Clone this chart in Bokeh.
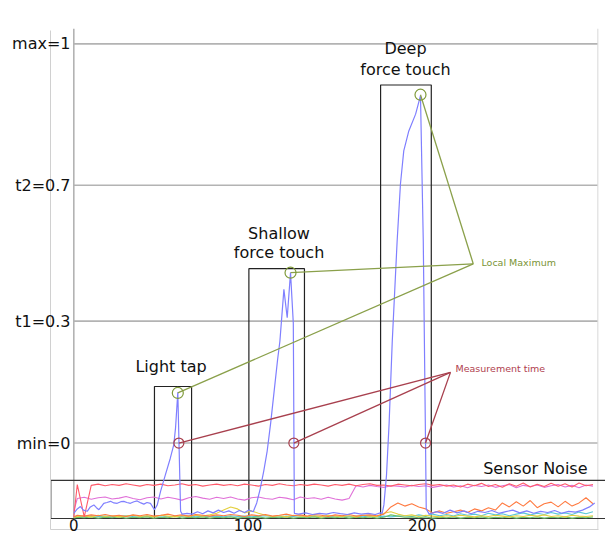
from bokeh.plotting import figure
from bokeh.models import FixedTicker, Range1d
from bokeh.core.properties import value
from bokeh.embed import file_html
from bokeh.resources import INLINE

# ---------------- data ----------------
tick_pos = [0.0, 0.3055, 0.646, 1.0]
tick_labels = ["min=0", "t1=0.3", "t2=0.7", "max=1"]
x_ticks = [0, 100, 200]

# force signal (blue)
sig_x = [0, 2, 3.8, 5.5, 7.7, 9.5, 11.5, 13, 14.4, 16, 17.2, 19, 21.1, 23, 24.9, 27, 28.7, 30.5,
         32.5, 34.5, 36.4, 38.5, 40.2, 42, 44.0, 46.3,
         47.9, 49.8, 52.6, 55.4, 57.4, 58.4, 59.7, 61.3,
         62.2, 65, 68, 71, 74, 77, 80, 83, 86, 89, 92, 95, 98, 100.5, 103,
         105, 107, 109, 111, 113, 115, 117, 118.3, 120.6, 122.5, 124.4, 126.0, 126.6,
         129, 133, 137, 141, 145, 149, 153, 157, 161, 165, 169, 173, 176,
         177, 178, 179.5, 181, 182.8, 185.6, 187.5, 189.4, 192.3, 196.2, 199.0, 200.6, 201.9, 202.3,
         204, 208, 212, 216, 220, 224, 228, 232, 236, 240, 244, 248, 252, 256, 260, 264, 268,
         272, 276, 280, 284, 288, 292, 296, 299]
sig_y = [-0.176, -0.165, -0.159, -0.168, -0.171, -0.160, -0.155, -0.162, -0.167, -0.158, -0.151,
         -0.149, -0.146, -0.150, -0.151, -0.147, -0.146, -0.149, -0.151, -0.147, -0.145, -0.150,
         -0.153, -0.149, -0.151, -0.167,
         -0.155, -0.121, -0.079, -0.038, -0.004, 0.038, 0.127, -0.171,
         -0.178, -0.176, -0.178, -0.172, -0.177, -0.170, -0.175, -0.168, -0.174, -0.170, -0.176,
         -0.169, -0.174, -0.168, -0.172,
         -0.150, -0.115, -0.071, -0.020, 0.050, 0.130, 0.210, 0.255, 0.385, 0.314, 0.427, 0.300, -0.176,
         -0.178, -0.175, -0.179, -0.176, -0.178, -0.174, -0.177, -0.179, -0.175, -0.178, -0.176,
         -0.179, -0.175,
         -0.176, -0.155, -0.080, 0.050, 0.255, 0.506, 0.649, 0.732, 0.782, 0.824, 0.870, 0.506,
         0.0, -0.165,
         -0.178, -0.172, -0.176, -0.168, -0.175, -0.170, -0.177, -0.171, -0.174, -0.169, -0.176,
         -0.172, -0.168, -0.175, -0.170, -0.176, -0.171, -0.174, -0.169, -0.176, -0.171, -0.173,
         -0.168, -0.160, -0.150]

# sensor noise channels
noise_t = [0] + list(range(2, 299, 4))
noise_red = [-0.185, -0.104, -0.185, -0.106, -0.103, -0.107, -0.104, -0.106, -0.102, -0.105,
             -0.108, -0.104, -0.106, -0.103, -0.107, -0.105, -0.102, -0.106, -0.104, -0.108,
             -0.105, -0.103, -0.106, -0.104, -0.107, -0.103, -0.105, -0.108, -0.104, -0.106,
             -0.102, -0.105, -0.107, -0.104, -0.106, -0.103, -0.105, -0.108, -0.104, -0.106,
             -0.103, -0.107, -0.104, -0.102, -0.106, -0.105, -0.108, -0.103, -0.105, -0.107,
             -0.104, -0.102, -0.106, -0.104, -0.108, -0.105, -0.110, -0.103, -0.107, -0.101,
             -0.109, -0.104, -0.111, -0.102, -0.108, -0.100, -0.110, -0.103, -0.109, -0.101,
             -0.108, -0.102, -0.110, -0.100, -0.107, -0.104]
noise_magenta = [-0.170, -0.139, -0.136, -0.141, -0.137, -0.135, -0.140, -0.138, -0.134, -0.139,
                 -0.142, -0.137, -0.135, -0.140, -0.136, -0.139, -0.143, -0.137, -0.134, -0.138,
                 -0.141, -0.136, -0.139, -0.135, -0.140, -0.143, -0.137, -0.135, -0.139, -0.141,
                 -0.136, -0.138, -0.142, -0.135, -0.139, -0.137, -0.141, -0.136, -0.140, -0.143,
                 -0.139, -0.107, -0.110, -0.106, -0.109, -0.111, -0.107, -0.108, -0.110, -0.106,
                 -0.109, -0.107, -0.111, -0.108, -0.105, -0.110, -0.107, -0.112, -0.106, -0.109,
                 -0.105, -0.111, -0.107, -0.104, -0.112, -0.106, -0.109, -0.105, -0.111, -0.107,
                 -0.104, -0.110, -0.106, -0.112, -0.105, -0.108]
noise_orange = [-0.185, -0.181, -0.183, -0.180, -0.182, -0.179, -0.183, -0.181, -0.184, -0.180,
                -0.182, -0.179, -0.183, -0.181, -0.178, -0.182, -0.180, -0.183, -0.179, -0.181,
                -0.183, -0.180, -0.182, -0.179, -0.181, -0.184, -0.180, -0.182, -0.179, -0.183,
                -0.181, -0.178, -0.182, -0.180, -0.183, -0.179, -0.181, -0.184, -0.180, -0.182,
                -0.179, -0.183, -0.181, -0.180, -0.182, -0.178, -0.160, -0.150, -0.158, -0.152,
                -0.160, -0.165, -0.175, -0.170, -0.176, -0.172, -0.168, -0.174, -0.165, -0.170,
                -0.162, -0.168, -0.150, -0.160, -0.147, -0.158, -0.144, -0.162, -0.152, -0.148,
                -0.160, -0.146, -0.158, -0.150, -0.137, -0.152]
noise_yellow = [-0.186, -0.184, -0.182, -0.185, -0.181, -0.184, -0.182, -0.185, -0.183, -0.181,
                -0.184, -0.182, -0.185, -0.181, -0.183, -0.185, -0.182, -0.184, -0.181, -0.183,
                -0.180, -0.176, -0.168, -0.160, -0.165, -0.175, -0.170, -0.176, -0.181, -0.184,
                -0.182, -0.185, -0.181, -0.183, -0.184, -0.182, -0.185, -0.181, -0.183, -0.184,
                -0.182, -0.185, -0.181, -0.183, -0.184, -0.176, -0.172, -0.178, -0.182, -0.180,
                -0.184, -0.181, -0.183, -0.185, -0.182, -0.184, -0.181, -0.183, -0.185, -0.182,
                -0.184, -0.181, -0.183, -0.185, -0.182, -0.184, -0.181, -0.183, -0.180, -0.184,
                -0.182, -0.185, -0.181, -0.183, -0.184, -0.182]
noise_green = [-0.188, -0.186, -0.187, -0.185, -0.188, -0.186, -0.187, -0.185, -0.188, -0.186,
               -0.187, -0.185, -0.188, -0.186, -0.187, -0.184, -0.188, -0.186, -0.187, -0.185,
               -0.188, -0.186, -0.187, -0.185, -0.188, -0.186, -0.187, -0.185, -0.188, -0.186,
               -0.187, -0.185, -0.188, -0.186, -0.187, -0.185, -0.188, -0.186, -0.187, -0.185,
               -0.188, -0.186, -0.187, -0.185, -0.188, -0.186, -0.180, -0.183, -0.186, -0.185,
               -0.187, -0.185, -0.188, -0.186, -0.187, -0.185, -0.188, -0.186, -0.187, -0.185,
               -0.188, -0.186, -0.187, -0.185, -0.188, -0.186, -0.187, -0.185, -0.188, -0.186,
               -0.187, -0.185, -0.188, -0.186, -0.187, -0.185]
noise_cyan = [-0.184, -0.183, -0.185, -0.182, -0.184, -0.183, -0.185, -0.183, -0.182, -0.184,
              -0.185, -0.183, -0.184, -0.182, -0.185, -0.183, -0.184, -0.182, -0.185, -0.183,
              -0.184, -0.183, -0.185, -0.182, -0.184, -0.183, -0.185, -0.183, -0.182, -0.184,
              -0.185, -0.183, -0.184, -0.182, -0.185, -0.183, -0.184, -0.182, -0.185, -0.183,
              -0.184, -0.183, -0.185, -0.182, -0.184, -0.183, -0.185, -0.183, -0.182, -0.184,
              -0.180, -0.183, -0.178, -0.182, -0.179, -0.183, -0.177, -0.181, -0.178, -0.182,
              -0.176, -0.180, -0.177, -0.182, -0.178, -0.175, -0.180, -0.176, -0.179, -0.174,
              -0.178, -0.175, -0.179, -0.173, -0.177, -0.172]
noise_series = [(noise_cyan, "#5cc8d8"), (noise_green, "#6cc06c"), (noise_yellow, "#e4d040"),
                (noise_orange, "#ff7a40"), (noise_magenta, "#e070d8"), (noise_red, "#ff5a6a")]

# events
event_left = [46.3, 100.5, 176.1]
event_right = [67.6, 132.4, 205.2]
event_top = [0.1416, 0.4368, 0.897]
event_bottom = -0.189
noise_box = dict(left=-13.2, right=310, top=-0.0936, bottom=-0.189)

peak_x = [59.7, 124.4, 199.0]
peak_y = [0.1255, 0.4267, 0.8727]
meas_x = [60.3, 126.3, 201.9]
meas_y = [0.0, 0.0, 0.0]

localmax_anchor = (229.3, 0.449)
meas_anchor = (216.2, 0.177)

event_text = ["Light tap", "Shallow", "force touch", "Deep", "force touch"]
event_text_x = [55.8, 117.8, 117.8, 190.4, 190.4]
event_text_y = [0.192, 0.525, 0.477, 0.988, 0.937]

# ---------------- figure ----------------
Y0, Y1 = -0.2166, 1.1087
p = figure(width=605, height=533, output_backend="svg", toolbar_location=None,
           x_range=Range1d(-13.375, 305.2), y_range=Range1d(Y0, Y1),
           min_border_left=50, min_border_right=0, min_border_top=0, min_border_bottom=0)
p.outline_line_color = None
p.xgrid.visible = False
p.ygrid.visible = False

FONT = value("DejaVu Sans")

# y axis (outer frame line on the left)
p.yaxis.ticker = FixedTicker(ticks=tick_pos)
p.yaxis.major_label_overrides = {t: l for t, l in zip(tick_pos, tick_labels)}
p.yaxis.major_label_standoff = -20
p.yaxis.major_tick_out = 0
p.yaxis.major_tick_in = 0
p.yaxis.minor_tick_line_color = None
p.yaxis.axis_line_color = "#d0d0d0"
p.yaxis.bounds = (Y0, 1.033)
p.yaxis.major_label_text_font = "DejaVu Sans"
p.yaxis.major_label_text_font_size = "16px"
p.yaxis.major_label_text_color = "#111111"

p.xaxis.ticker = FixedTicker(ticks=x_ticks)
p.xaxis.major_label_standoff = -11
p.xaxis.major_tick_out = 0
p.xaxis.major_tick_in = 0
p.xaxis.minor_tick_line_color = None
p.xaxis.axis_line_color = "#d0d0d0"
p.xaxis.bounds = (-13.375, 301.2)
p.xaxis.major_label_text_font = "DejaVu Sans"
p.xaxis.major_label_text_font_size = "15px"
p.xaxis.major_label_text_color = "#111111"

# horizontal reference lines, inner axis at x=0, right frame
p.segment(x0=[0] * len(tick_pos), y0=tick_pos, x1=[300.8] * len(tick_pos), y1=tick_pos,
          line_color="#b3b3b3", line_width=1.6)
p.segment(x0=[0], y0=[event_bottom], x1=[0], y1=[1.038], line_color="#b3b3b3", line_width=1.6)
p.segment(x0=[300.8], y0=[Y0], x1=[300.8], y1=[1.038], line_color="#d8d8d8", line_width=1)

# boxes
p.quad(left=event_left, right=event_right, top=event_top, bottom=[event_bottom] * 3,
       fill_color=None, line_color="#222222", line_width=1.2)
p.quad(left=[noise_box["left"]], right=[noise_box["right"]], top=[noise_box["top"]],
       bottom=[noise_box["bottom"]], fill_color=None, line_color="#333333", line_width=1.2)

# noise
for ys, col in noise_series:
    p.line(noise_t, ys, line_color=col, line_width=1.1)

# signal
p.line(sig_x, sig_y, line_color="#7f7fff", line_width=1.2)

# annotation lines
p.segment(x0=[localmax_anchor[0]] * 3, y0=[localmax_anchor[1]] * 3, x1=peak_x, y1=peak_y,
          line_color="#8aa04a", line_width=1.3)
p.segment(x0=[meas_anchor[0]] * 3, y0=[meas_anchor[1]] * 3, x1=meas_x, y1=meas_y,
          line_color="#a8404e", line_width=1.3)

p.scatter(peak_x, peak_y, marker="circle", size=11, fill_color=None,
          line_color="#7f9a3a", line_width=1.2)
p.scatter(meas_x, meas_y, marker="circle", size=10, fill_color=None,
          line_color="#a8404e", line_width=1.2)

# texts
p.text(x=event_text_x, y=event_text_y, text=event_text, text_font=FONT,
       text_font_size="16px", text_align="center", text_baseline="middle", text_color="#111111")
p.text(x=[235.0], y=[-0.0648], text=["Sensor Noise"], text_font=FONT,
       text_font_size="16px", text_align="left", text_baseline="middle", text_color="#111111")
p.text(x=[234.0], y=[0.452], text=["Local Maximum"], text_font=FONT,
       text_font_size="9.5px", text_align="left", text_baseline="middle", text_color="#7a9436")
p.text(x=[219.1], y=[0.1875], text=["Measurement time"], text_font=FONT,
       text_font_size="9.5px", text_align="left", text_baseline="middle", text_color="#b0404e")

open("out.html", "w").write(file_html(p, INLINE))
